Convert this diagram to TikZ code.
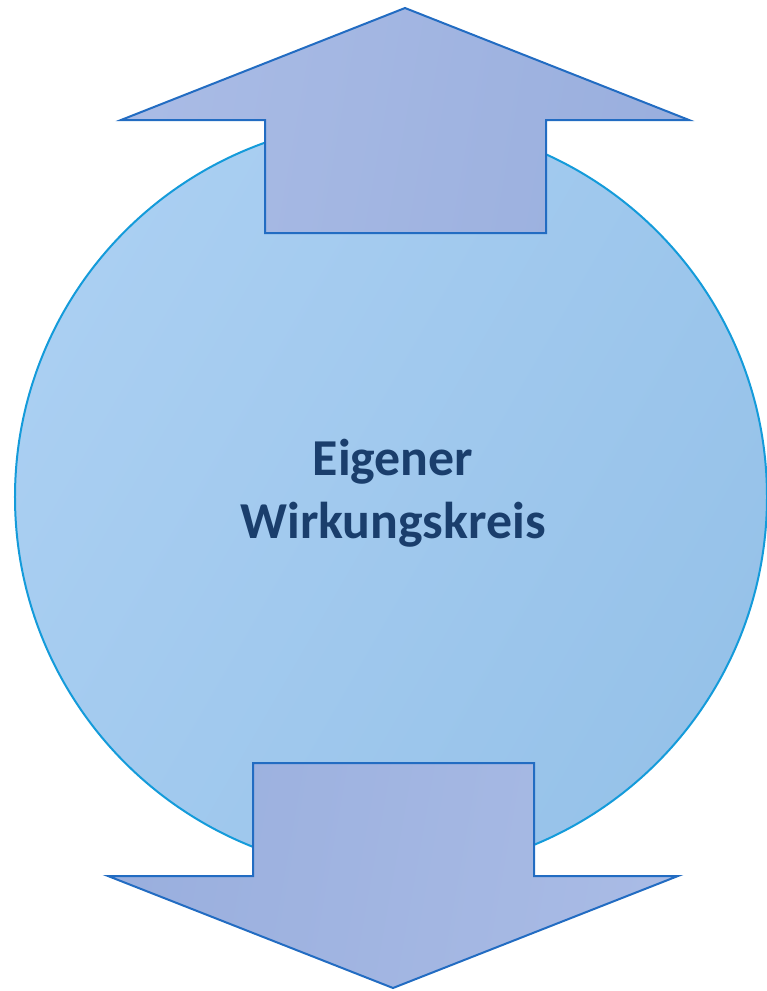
\documentclass[tikz,border=0pt]{standalone}
\usepackage{fontspec}
\setmainfont{Carlito}
\usetikzlibrary{shapes.geometric}

\definecolor{kreisA}{RGB}{170,207,242}
\definecolor{kreisB}{RGB}{150,194,233}
\definecolor{kreisrand}{RGB}{20,155,218}
\definecolor{pfeilA}{RGB}{169,187,229}
\definecolor{pfeilB}{RGB}{154,175,222}
\definecolor{pfeilrand}{RGB}{34,108,194}
\definecolor{schrift}{RGB}{26,62,108}

\tikzset{
	kreis/.style={circle, draw=kreisrand, line width=2bp,
		left color=kreisA, right color=kreisB, shading angle=60,
		minimum size=752bp, inner sep=0pt},
	pfeil/.style={draw=pfeilrand, line width=2bp, line join=miter,
		left color=pfeilA, right color=pfeilB},
	titel/.style={text=schrift, align=center,
		font=\bfseries\fontsize{52}{63}\selectfont}
}

\begin{document}
\begin{tikzpicture}[x=1bp,y=-1bp]

		\useasboundingbox (0,0) rectangle (767,991);

		\node[kreis] (kreis) at (391,497) {};
		\node[titel] (text) at (393,493) {Eigener\\Wirkungskreis};

		% pfeil oben
		\draw[pfeil, shading angle=80] (405,8) -- (689,120) -- (546,120) -- (546,233)
			-- (265,233) -- (265,120) -- (121,120) -- cycle;

		% pfeil unten
		\draw[pfeil, shading angle=260] (393,988) -- (108,876) -- (253,876) -- (253,763)
			-- (534,763) -- (534,876) -- (678,876) -- cycle;

	\end{tikzpicture}
\end{document}
